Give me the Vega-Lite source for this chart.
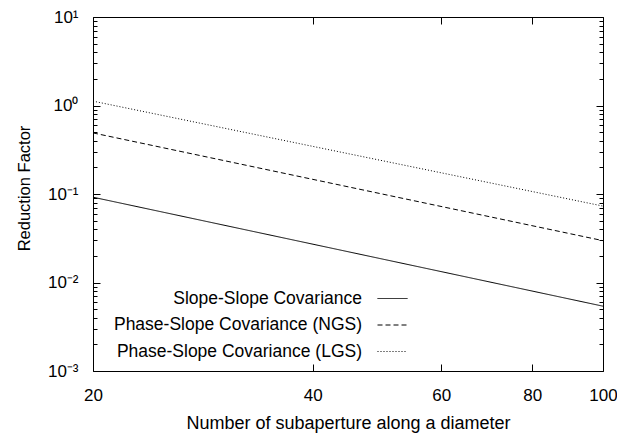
{
  "$schema": "https://vega.github.io/schema/vega-lite/v6.json",
  "width": 510,
  "height": 354,
  "autosize": "none",
  "padding": {"left": 93, "top": 17, "right": 14, "bottom": 76},
  "background": "white",
  "config": {
    "view": {"stroke": null},
    "font": "Liberation Sans",
    "axis": {
      "domainColor": "black",
      "domainWidth": 1,
      "tickColor": "black",
      "tickWidth": 1,
      "grid": false,
      "labelFlush": false,
      "labelColor": "black",
      "titleColor": "black",
      "labelFont": "Liberation Sans",
      "titleFont": "Liberation Sans",
      "titleFontWeight": "normal",
      "labelFontSize": 17,
      "titleFontSize": 18
    },
    "legend": {
      "labelFont": "Liberation Sans",
      "labelFontSize": 17.5,
      "labelColor": "black"
    }
  },
  "data": {
    "values": [
      {"n": 20, "r": 0.092, "series": "Slope-Slope Covariance"},
      {"n": 100, "r": 0.0054, "series": "Slope-Slope Covariance"},
      {"n": 20, "r": 0.49, "series": "Phase-Slope Covariance (NGS)"},
      {"n": 100, "r": 0.0297, "series": "Phase-Slope Covariance (NGS)"},
      {"n": 20, "r": 1.12, "series": "Phase-Slope Covariance (LGS)"},
      {"n": 100, "r": 0.073, "series": "Phase-Slope Covariance (LGS)"}
    ]
  },
  "layer": [
    {
      "mark": {"type": "line", "color": "black", "strokeWidth": 1, "clip": true},
      "encoding": {
        "x": {
          "field": "n", "type": "quantitative",
          "scale": {"type": "log", "domain": [20, 100], "nice": false},
          "axis": {
            "orient": "bottom",
            "values": [20, 40, 60, 80, 100],
            "tickSize": -7,
            "labelPadding": 23,
            "title": "Number of subaperture along a diameter",
            "titlePadding": 11
          }
        },
        "y": {
          "field": "r", "type": "quantitative",
          "scale": {"type": "log", "domain": [0.001, 10], "nice": false},
          "axis": {
            "orient": "left",
            "values": [0.001, 0.002, 0.003, 0.004, 0.005, 0.006, 0.007, 0.008, 0.009, 0.01, 0.02, 0.03, 0.04, 0.05, 0.06, 0.07, 0.08, 0.09, 0.1, 0.2, 0.3, 0.4, 0.5, 0.6, 0.7, 0.8, 0.9, 1, 2, 3, 4, 5, 6, 7, 8, 9, 10],
            "labelExpr": "datum.value==0.001?'10⁻³':datum.value==0.01?'10⁻²':datum.value==0.1?'10⁻¹':datum.value==1?'10⁰':datum.value==10?'10¹':''",
            "tickSize": {"condition": {"test": "indexof([0.001,0.01,0.1,1,10], datum.value) >= 0", "value": -7}, "value": -4},
            "labelPadding": 22,
            "title": "Reduction Factor",
            "titleFontSize": 16.5,
            "titlePadding": 15,
            "titleY": 171
          }
        },
        "strokeDash": {
          "field": "series", "type": "nominal",
          "scale": {
            "domain": ["Slope-Slope Covariance", "Phase-Slope Covariance (NGS)", "Phase-Slope Covariance (LGS)"],
            "range": [[1, 0], [5, 3], [1, 2]]
          },
          "legend": {
            "title": null,
            "orient": "none",
            "legendX": 284,
            "legendY": 266,
            "symbolType": "stroke",
            "symbolSize": 900,
            "symbolStrokeWidth": 1,
            "symbolStrokeColor": "black",
            "labelAlign": "right",
            "labelOffset": -46,
            "labelLimit": 0,
            "rowPadding": 2.5
          }
        }
      }
    },
    {
      "mark": {"type": "line", "strokeOpacity": 0},
      "encoding": {
        "x": {
          "field": "n", "type": "quantitative",
          "scale": {"type": "log", "domain": [20, 100], "nice": false},
          "axis": {"orient": "top", "values": [20, 40, 60, 80, 100], "tickSize": -7, "labels": false, "title": null}
        },
        "y": {
          "field": "r", "type": "quantitative",
          "scale": {"type": "log", "domain": [0.001, 10], "nice": false},
          "axis": {
            "orient": "right",
            "values": [0.001, 0.002, 0.003, 0.004, 0.005, 0.006, 0.007, 0.008, 0.009, 0.01, 0.02, 0.03, 0.04, 0.05, 0.06, 0.07, 0.08, 0.09, 0.1, 0.2, 0.3, 0.4, 0.5, 0.6, 0.7, 0.8, 0.9, 1, 2, 3, 4, 5, 6, 7, 8, 9, 10],
            "tickSize": {"condition": {"test": "indexof([0.001,0.01,0.1,1,10], datum.value) >= 0", "value": -7}, "value": -4},
            "labels": false,
            "title": null
          }
        },
        "detail": {"field": "series", "type": "nominal"}
      }
    }
  ],
  "resolve": {"axis": {"x": "independent", "y": "independent"}}
}
